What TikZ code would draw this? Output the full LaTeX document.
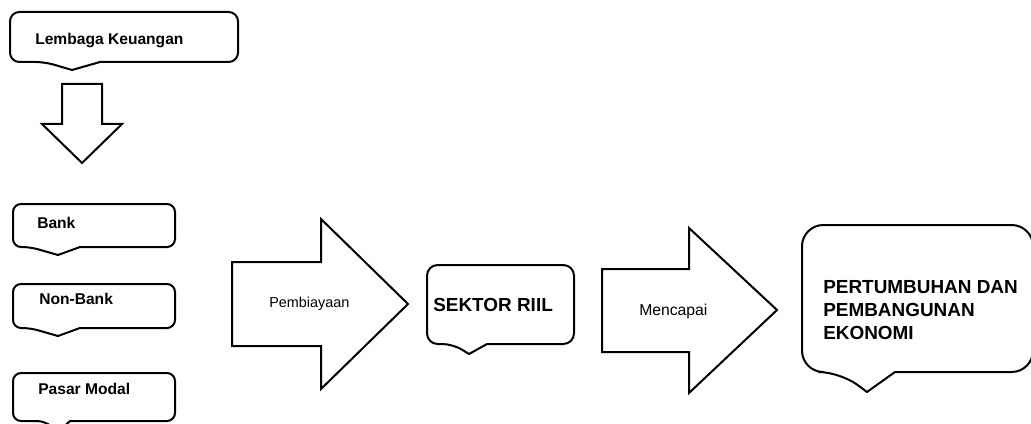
\documentclass[tikz,border=0pt]{standalone}
\usepackage{fontspec}
\setmainfont{Liberation Sans}
\usepackage{tikz}
\usetikzlibrary{positioning}
\tikzstyle{bubble} = [draw, line width=1.5pt, line join=round, fill=white]
\tikzstyle{blockarrow} = [draw, line width=1.5pt, line join=miter, fill=white]
\tikzstyle{small} = [inner sep=0pt, anchor=base west, font=\bfseries\fontsize{11.7}{14}\selectfont]
\tikzstyle{big} = [inner sep=0pt, font=\bfseries\fontsize{14.2}{17.5}\selectfont]
\tikzstyle{plain} = [inner sep=0pt, anchor=base west]

\begin{document}
\begin{tikzpicture}[x=0.75pt, y=-0.75pt]
        \useasboundingbox (0,0) rectangle (1031,424);

        % callout boxes
        \draw[bubble, rounded corners=7pt] (100,62) -- (238,62) -- (238,12) -- (10,12) -- (10,62) -- (45,62) [sharp corners] -- (72,70) -- cycle;
        \draw[bubble, rounded corners=6pt] (80,247) -- (175,247) -- (175,204) -- (13,204) -- (13,247) -- (30,247) [sharp corners] -- (58,255) -- cycle;
        \draw[bubble, rounded corners=6pt] (80,328) -- (175,328) -- (175,284) -- (13,284) -- (13,328) -- (30,328) [sharp corners] -- (58,336) -- cycle;
        \draw[bubble, rounded corners=6pt] (70,421) -- (175,421) -- (175,373) -- (13,373) -- (13,421) -- (45,421) [sharp corners] -- (58,432) -- cycle;
        \draw[bubble, rounded corners=8pt] (487,344) -- (574,344) -- (574,265) -- (427,265) -- (427,344) -- (453,344) [sharp corners] -- (469,354) -- cycle;
        \draw[bubble, rounded corners=16pt] (895,372) -- (1033,372) -- (1033,225) -- (802,225) -- (802,372) -- (840,372) [sharp corners] -- (867,392) -- cycle;

        % block arrows
        \draw[blockarrow] (62,84) -- (102,84) -- (102,124) -- (122,124) -- (82,163) -- (42,124) -- (62,124) -- cycle;
        \draw[blockarrow] (232,262) -- (321,262) -- (321,219) -- (408,304) -- (321,389) -- (321,346) -- (232,346) -- cycle;
        \draw[blockarrow] (602,269) -- (689,269) -- (689,228) -- (777,310) -- (689,393) -- (689,352) -- (602,352) -- cycle;

        % texts
        \node[small] (lembaga) at (35,45) {Lembaga Keuangan};
        \node[small] (bank)    at (37,228) {Bank};
        \node[small] (nonbank) at (39,304) {Non-Bank};
        \node[small] (pasar)   at (38,394) {Pasar Modal};
        \node[plain, font=\fontsize{10.8}{13}\selectfont] (biaya) at (269,307) {Pembiayaan};
        \node[plain, font=\fontsize{11.8}{14}\selectfont] (capai) at (639,315) {Mencapai};
        \node[big, anchor=base west] (sektor) at (433,311) {SEKTOR RIIL};
        \node[big, anchor=north west, align=left] (tumbuh) at (823,280) {PERTUMBUHAN DAN\\PEMBANGUNAN\\EKONOMI};
\end{tikzpicture}
\end{document}
